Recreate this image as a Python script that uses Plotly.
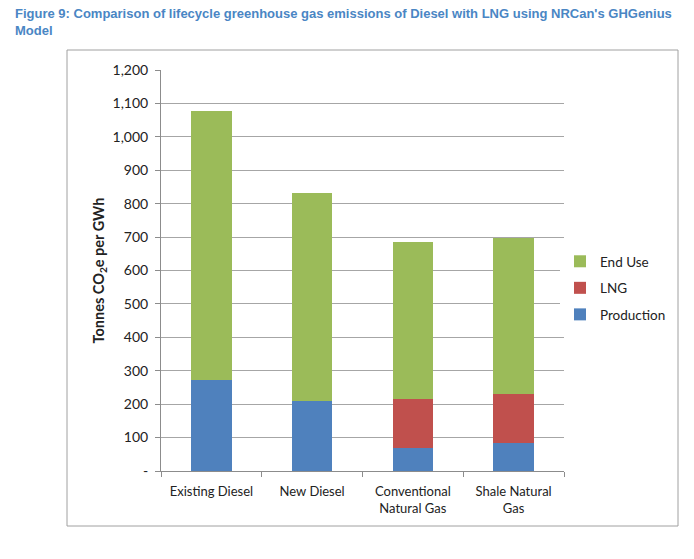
import plotly.graph_objects as go

categories = ["Existing Diesel", "New Diesel", "Conventional<br>Natural Gas", "Shale Natural<br>Gas"]
production = [272, 209, 69, 83]
lng = [0, 0, 146, 147]
end_use = [806, 624, 470, 468]

y_ticks = [0, 100, 200, 300, 400, 500, 600, 700, 800, 900, 1000, 1100, 1200]
y_labels = ["-", "100", "200", "300", "400", "500", "600", "700", "800", "900", "1,000", "1,100", "1,200"]

GREEN = "#9BBB59"
RED = "#C0504D"
BLUE = "#4F81BD"
FONT = "Lato, Open Sans, sans-serif"

fig = go.Figure()
fig.add_bar(x=categories, y=production, name="Production", marker_color=BLUE,
            legendgroup="p", legendrank=3)
fig.add_bar(x=categories, y=lng, name="LNG", marker_color=RED,
            legendgroup="l", legendrank=2)
fig.add_bar(x=categories, y=end_use, name="End Use", marker_color=GREEN,
            legendgroup="e", legendrank=1)

for tr in fig.data:
    tr.hoverinfo = "name+y"
    tr.marker.line.width = 0

# the page puts the figure 8px in from the top-left corner
OFF = 8
W, H = 694 - OFF, 559 - OFF
# plot area in page px: x 161..564, y 70..471
L, R, T, B = 161 - OFF, 694 - 564, 70 - OFF, 559 - 471
pw, ph = W - L - R, H - T - B


def px_x(x):
    return (x - OFF - L) / pw


def px_y(y):
    return (H - B - (y - OFF)) / ph


# outer chart frame
fig.add_shape(type="rect", xref="paper", yref="paper",
              x0=px_x(67), x1=px_x(678), y0=px_y(526), y1=px_y(50),
              line=dict(color="#a0a0a0", width=1), layer="below")

fig.add_annotation(
    text="<b>Figure 9: Comparison of lifecycle greenhouse gas emissions of Diesel with LNG using NRCan's GHGenius<br>Model</b>",
    xref="paper", yref="paper", x=px_x(13), y=px_y(4),
    xanchor="left", yanchor="top", align="left", showarrow=False,
    font=dict(family="Liberation Sans, Arial, sans-serif", size=13, color="#4a86c4"),
)

fig.update_layout(
    width=W, height=H,
    margin=dict(l=L, r=R, t=T, b=B),
    barmode="stack",
    bargap=0.6,
    plot_bgcolor="white",
    paper_bgcolor="white",
    font=dict(family=FONT, size=12, color="#222"),
    legend=dict(
        traceorder="grouped",
        x=px_x(560), y=px_y(246), xanchor="left", yanchor="top",
        font=dict(family=FONT, size=13.5, color="#222"),
        itemwidth=30, tracegroupgap=6,
    ),
    showlegend=True,
)

fig.update_xaxes(
    type="category",
    showline=True, linecolor="#8c8c8c", linewidth=1,
    ticks="outside", tickson="boundaries", ticklen=5, tickcolor="#8c8c8c",
    ticklabelstandoff=8,
    showgrid=False,
    tickfont=dict(family=FONT, size=13, color="#222"),
)
fig.update_yaxes(
    range=[0, 1200],
    tickvals=y_ticks, ticktext=y_labels,
    showline=True, linecolor="#8c8c8c", linewidth=1,
    ticks="outside", ticklen=5, tickcolor="#8c8c8c",
    ticklabelstandoff=4,
    showgrid=True, gridcolor="#a6a6a6", gridwidth=1,
    zeroline=False,
    tickfont=dict(family=FONT, size=14, color="#222"),
    title=dict(text="<b>Tonnes CO<sub>2</sub>e per GWh</b>", standoff=4,
               font=dict(family=FONT, size=14.5, color="#222")),
)

fig.write_html("out.html")
